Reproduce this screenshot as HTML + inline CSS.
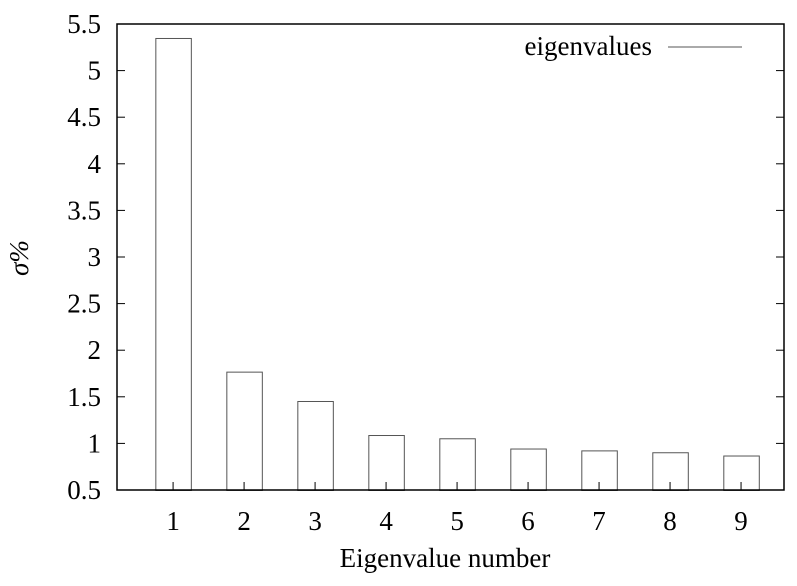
<!DOCTYPE html>
<html><head><meta charset="utf-8"><style>
body{margin:0;background:#fff}
svg text{font-family:"Liberation Serif",serif;font-size:27px;fill:#000}
</style></head><body>
<svg id="chart" width="797" height="581" xmlns="http://www.w3.org/2000/svg"></svg>
<script>
const categories=[1,2,3,4,5,6,7,8,9];
const values=[5.35,1.77,1.455,1.09,1.055,0.945,0.925,0.905,0.87];
const yTicks=[0.5,1,1.5,2,2.5,3,3.5,4,4.5,5,5.5];
const yLabels=["0.5","1","1.5","2","2.5","3","3.5","4","4.5","5","5.5"];
const L=117,R=784,T=24,B=490;
const xMin=0.21,xMax=9.605,yMin=0.5,yMax=5.5;
const sx=v=>L+(v-xMin)/(xMax-xMin)*(R-L);
const sy=v=>B-(v-yMin)/(yMax-yMin)*(B-T);
const svg=document.getElementById('chart');
const NS='http://www.w3.org/2000/svg';
function mk(tag,attrs,txt){const e=document.createElementNS(NS,tag);for(const k in attrs)e.setAttribute(k,attrs[k]);if(txt!==undefined)e.textContent=txt;svg.appendChild(e);return e;}
categories.forEach((c,i)=>{
  const x0=sx(c-0.25),x1=sx(c+0.25);
  const r=mk('rect',{x:x0+0.5,y:sy(values[i])+0.5,width:x1-x0,height:B-sy(values[i]),fill:'none',stroke:'#555','stroke-width':1});
  
  
  const t=mk('line',{x1:sx(c),x2:sx(c),y1:B,y2:B-8,stroke:'#000'});
  
  
  const tl=mk('text',{x:sx(c),y:530,'text-anchor':'middle'},String(c));
  
  
});
yTicks.forEach((v,i)=>{
  const y=sy(v);
  const a=mk('line',{x1:L,x2:L+8,y1:y,y2:y,stroke:'#000'});
  
  
  const b=mk('line',{x1:R,x2:R-8,y1:y,y2:y,stroke:'#000'});
  
  
  const tl=mk('text',{x:L-16,y:y+9,'text-anchor':'end'},yLabels[i]);
  
  
});
const f=mk('rect',{x:L,y:T,width:R-L,height:B-T,fill:'none',stroke:'#000','stroke-width':1.5});


const xt=mk('text',{x:445,y:567,'text-anchor':'middle'},'Eigenvalue number');


const yt=mk('text',{x:28,y:258,'text-anchor':'middle','font-style':'italic',transform:'rotate(-90 28 258)'},'σ%');


const lg=mk('text',{x:652,y:55,'text-anchor':'end'},'eigenvalues');


const ll=mk('line',{x1:668,x2:742,y1:47,y2:47,stroke:'#555'});


</script>
</body></html>
